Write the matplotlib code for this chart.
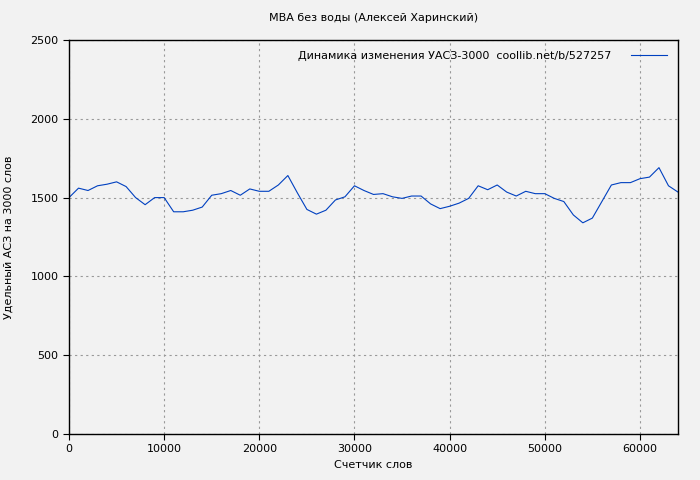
import matplotlib
matplotlib.use("Agg")
import matplotlib.pyplot as plt

words = [i * 1000 for i in range(65)]
values = [1500,1560,1545,1575,1585,1600,1570,1500,1455,1500,1500,1410,1410,1420,1440,1515,
          1525,1545,1515,1555,1540,1540,1580,1640,1530,1425,1395,1420,1485,1505,1575,1545,
          1520,1525,1505,1495,1510,1510,1460,1430,1445,1465,1495,1575,1550,1580,1535,1510,
          1540,1525,1525,1495,1475,1390,1340,1370,1475,1580,1595,1595,1620,1630,1690,1575,1535]

fig = plt.figure(figsize=(7, 4.8), dpi=100)
fig.patch.set_facecolor("#f2f2f2")
ax = fig.add_axes([69/700, 46/480, (678-69)/700, (434-40)/480])
ax.set_facecolor("#f2f2f2")
ax.plot(words, values, color="#0040c0", lw=0.8, label="Динамика изменения УАСЗ-3000  coollib.net/b/527257")
ax.set_xlim(0, 64000)
ax.set_ylim(0, 2500)
ax.set_xticks(range(0, 60001, 10000))
ax.set_yticks(range(0, 2501, 500))
ax.grid(True, color="#999999", ls=(0, (2, 3)), lw=0.8)
ax.tick_params(labelsize=8, direction="out", length=4)
for s in ax.spines.values():
    s.set_linewidth(1)
ax.set_xlabel("Счетчик слов", fontsize=8)
ax.set_ylabel("Удельный АСЗ на 3000 слов", fontsize=8, labelpad=12)
ax.set_title("МВА без воды (Алексей Харинский)", fontsize=8, pad=14)
leg = ax.legend(loc="upper right", fontsize=8, frameon=False, markerfirst=False,
                handlelength=3.2, handletextpad=1.8, borderaxespad=0.6)
fig.savefig("out.png", dpi=100, facecolor=fig.get_facecolor())
